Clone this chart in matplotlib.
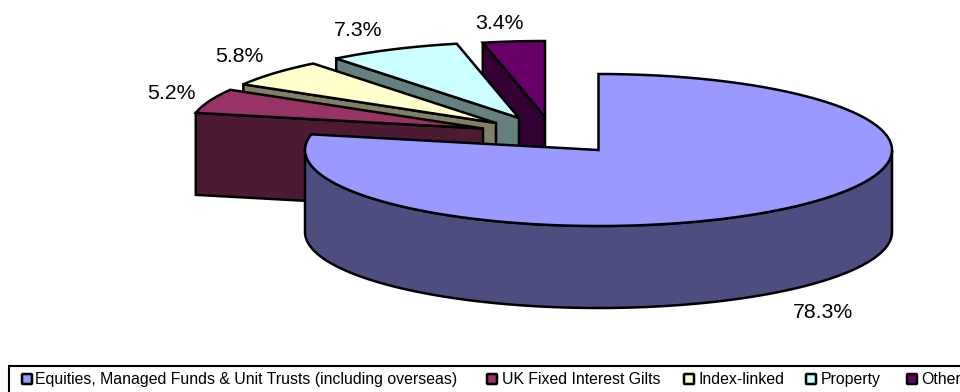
import numpy as np
import matplotlib
matplotlib.use('Agg')
import matplotlib.pyplot as plt
import matplotlib.patches as patches

plt.rcParams['font.family'] = ['Liberation Sans', 'DejaVu Sans']

# Data
categories = ['Equities, Managed Funds & Unit Trusts (including overseas)',
              'UK Fixed Interest Gilts', 'Index-linked', 'Property', 'Other']
values = [78.3, 5.2, 5.8, 7.3, 3.4]
value_labels = ['78.3%', '5.2%', '5.8%', '7.3%', '3.4%']

# Colours
top_colors = ['#9999FF', '#993366', '#FFFFCC', '#CCFFFF', '#660066']
side_colors = ['#4D4D80', '#4D1A33', '#808066', '#668080', '#330033']

# Layout, in pixels of the 960x392 picture
rx, ry, depth = 293.5, 76, 82
apexes = [(598.5, 150), (483, 128.5), (496, 123), (519, 118), (545, 117)]
label_pos = [(823.5, 312.5), (171.5, 93.5), (239.5, 56.5), (358.5, 30.5), (499.5, 23.5)]
legend_marker_x = [21, 486, 683, 805, 906]
legend_text_x = [35, 501.5, 698, 821, 921]
LW = 1.8

fig = plt.figure(figsize=(9.6, 3.92), dpi=100)
ax = fig.add_axes([0, 0, 1, 1])
ax.set_xlim(0, 960)
ax.set_ylim(392, 0)
ax.axis('off')


def rim(apex, t0, t1):
    t = np.radians(np.linspace(t0, t1, 200))
    return np.column_stack([apex[0] + rx * np.sin(t), apex[1] - ry * np.cos(t)])


def poly(pts, color, z):
    ax.add_patch(patches.Polygon(pts, closed=True, facecolor=color, edgecolor='black',
                                 linewidth=LW, joinstyle='miter', zorder=z))


# Slice angles, clockwise from 12 o'clock
edges = np.concatenate([[0], np.cumsum(values)]) / sum(values) * 360

# Back slices first, the big one goes on top of them
for i in [4, 3, 2, 1]:
    apex = apexes[i]
    t0, t1 = edges[i], edges[i + 1]
    start = rim(apex, t0, t0)[0]
    wall = [apex, start, (start[0], start[1] + depth), (apex[0], apex[1] + depth)]
    poly(wall, side_colors[i], 10 - i)
    poly(np.vstack([[apex], rim(apex, t0, t1)]), top_colors[i], 10 - i)

# Main slice
apex = apexes[0]
front = rim(apex, 90, 270)
poly(np.vstack([front, (front + [0, depth])[::-1]]), side_colors[0], 20)
poly(np.vstack([[apex], rim(apex, edges[0], edges[1])]), top_colors[0], 21)

# Value labels
for (x, y), lbl in zip(label_pos, value_labels):
    ax.text(x, y, lbl, ha='center', va='center', fontsize=15.3, color='black', zorder=30)

# Legend frame runs off the picture on the right and at the bottom
ax.add_patch(patches.Rectangle((9, 366), 980, 60, facecolor='white', edgecolor='black',
                               linewidth=1.5, zorder=25))
for i, lbl in enumerate(categories):
    ax.add_patch(patches.FancyBboxPatch((legend_marker_x[i] + 2, 375), 8, 8,
                                        boxstyle='round,pad=1', facecolor=top_colors[i],
                                        edgecolor='black', linewidth=1.8, zorder=26))
    ax.text(legend_text_x[i], 379.5, lbl, ha='left', va='center', fontsize=11.45,
            color='black', zorder=26)

plt.savefig('out.png', dpi=100)
